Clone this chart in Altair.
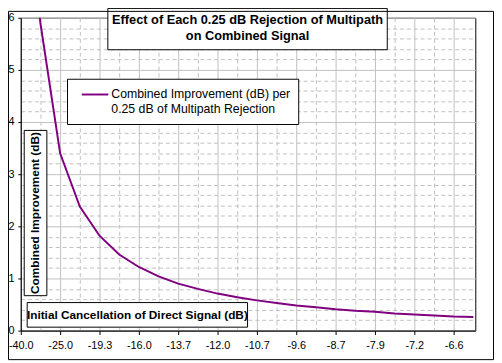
import altair as alt
import pandas as pd

# ---- data ----
cancellation_labels = ["-40.0", "-30.9", "-25.0", "-21.6", "-19.3", "-17.5", "-16.0", "-14.8",
                       "-13.7", "-12.8", "-12.0", "-11.3", "-10.7", "-10.1", "-9.6", "-9.1",
                       "-8.7", "-8.2", "-7.9", "-7.5", "-7.2", "-6.9", "-6.6", "-6.3"]
improvement = [9.06, 5.89, 3.40, 2.38, 1.82, 1.46, 1.22, 1.04, 0.90, 0.80, 0.71, 0.64,
               0.58, 0.53, 0.48, 0.45, 0.41, 0.38, 0.36, 0.33, 0.31, 0.29, 0.27, 0.26]
shown_label_idx = [0, 2, 4, 6, 8, 10, 12, 14, 16, 18, 20, 22]
minor_x_idx = [1, 3, 5, 7, 9, 11, 13, 15, 17, 19, 21]
y_ticks = [0, 1, 2, 3, 4, 5, 6]
y_minor = [0.2, 0.4, 0.6, 0.8, 1.2, 1.4, 1.6, 1.8, 2.2, 2.4, 2.6, 2.8,
           3.2, 3.4, 3.6, 3.8, 4.2, 4.4, 4.6, 4.8, 5.2, 5.4, 5.6, 5.8]
title_lines = ["Effect of Each 0.25 dB Rejection of Multipath", "on Combined Signal"]
legend_lines = ["Combined Improvement (dB) per", "0.25 dB of Multipath Rejection"]
x_title = "Initial Cancellation of Direct Signal (dB)"
y_title = "Combined Improvement (dB)"

df = pd.DataFrame({"idx": list(range(len(improvement))),
                   "label": cancellation_labels,
                   "value": improvement})
one = pd.DataFrame({"k": [0]})

FONT = "Liberation Sans"
PURPLE = "#800080"
GRID = "#c0c0c0"
W, H = 462, 318

x_scale = alt.Scale(domain=[0, 23.1], nice=False, zero=False)
y_scale = alt.Scale(domain=[0, 6], nice=False, zero=False)

label_expr = "[" + ",".join("'" + s + "'" for s in cancellation_labels) + "][round(datum.value)]"

minor = alt.Chart(df).mark_line(opacity=0).encode(
    x=alt.X("idx:Q", scale=x_scale, title=None,
            axis=alt.Axis(orient="bottom", values=minor_x_idx, grid=True, gridColor=GRID,
                          gridDash=[4, 3], gridWidth=1, labels=False, ticks=False,
                          domain=False)),
    y=alt.Y("value:Q", scale=y_scale, title=None,
            axis=alt.Axis(orient="left", values=y_minor, grid=True, gridColor=GRID,
                          gridDash=[4, 3], gridWidth=1, labels=False, ticks=False,
                          domain=False)),
)

major = alt.Chart(df).mark_line(opacity=0).encode(
    x=alt.X("idx:Q", scale=x_scale, title=None,
            axis=alt.Axis(orient="bottom", values=shown_label_idx, grid=True, gridColor=GRID,
                          gridWidth=1, labelExpr=label_expr, labelFont=FONT, labelFontSize=11,
                          labelColor="black", ticks=True, tickColor="black", tickSize=4,
                          labelPadding=5, domain=True, domainColor="black",
                          labelAngle=0, labelOverlap=False, labelFlush=False)),
    y=alt.Y("value:Q", scale=y_scale, title=None,
            axis=alt.Axis(orient="left", values=y_ticks, grid=True, gridColor=GRID,
                          gridWidth=1, labelFont=FONT, labelFontSize=11, labelColor="black",
                          ticks=True, tickColor="black", tickSize=3, labelPadding=4,
                          domain=True, domainColor="black", format="d",
                          labelFlush=False, labelOverlap=False)),
)

line = alt.Chart(df).mark_line(color=PURPLE, strokeWidth=2, clip=True).encode(
    x=alt.X("idx:Q", scale=x_scale, axis=None),
    y=alt.Y("value:Q", scale=y_scale, axis=None),
)


def box(x1, x2, y1, y2, fill="white"):
    return alt.Chart(one).mark_rect(fill=fill, stroke="black", strokeWidth=1).encode(
        x=alt.value(x1), x2=alt.value(x2), y=alt.value(y1), y2=alt.value(y2))


def txt(s, x, y, size, bold=False, align="center", angle=0):
    kw = dict(font=FONT, fontSize=size, color="black", align=align, baseline="middle")
    if bold:
        kw["fontWeight"] = "bold"
    if angle:
        kw["angle"] = angle
    return alt.Chart(one).mark_text(**kw).encode(
        x=alt.value(x), y=alt.value(y), text=alt.value(s))


outer = alt.Chart(one).mark_rect(fill=None, stroke="black", strokeWidth=1).encode(
    x=alt.value(-12.5), x2=alt.value(480.5), y=alt.value(-6.5), y2=alt.value(347.5))

title_box = box(88.5, 372.5, -9.5, 32.5)
title_t1 = txt(title_lines[0], 230.5, 2.5, 13, bold=True)
title_t2 = txt(title_lines[1], 230.5, 18.5, 13, bold=True)

legend_box = box(47.5, 282.5, 62.5, 108.5)
legend_sample = alt.Chart(one).mark_rule(color=PURPLE, strokeWidth=2).encode(
    x=alt.value(62), x2=alt.value(89), y=alt.value(78))
legend_t1 = txt(legend_lines[0], 92, 78, 12.5, align="left")
legend_t2 = txt(legend_lines[1], 92, 93, 12.5, align="left")

ytitle_box = box(3.5, 26.5, 114.5, 282.5)
ytitle_t = txt(y_title, 15, 198.5, 12, bold=True, angle=270)

xtitle_box = box(6.5, 230.5, 289.5, 314.5)
xtitle_t = txt(x_title, 118.5, 302, 12, bold=True)

chart = alt.layer(
    minor, major, line,
    title_box, title_t1, title_t2,
    legend_box, legend_sample, legend_t1, legend_t2,
    ytitle_box, ytitle_t,
    xtitle_box, xtitle_t,
    outer,
).resolve_axis(x="independent", y="independent").properties(
    width=W, height=H,
    autosize=alt.AutoSizeParams(type="none"),
    padding={"left": 13, "top": 7, "right": 19, "bottom": 30},
    background="white",
).configure_view(stroke="black", strokeWidth=1)

chart.save("out.html", embed_options={"renderer": "svg", "actions": False})
